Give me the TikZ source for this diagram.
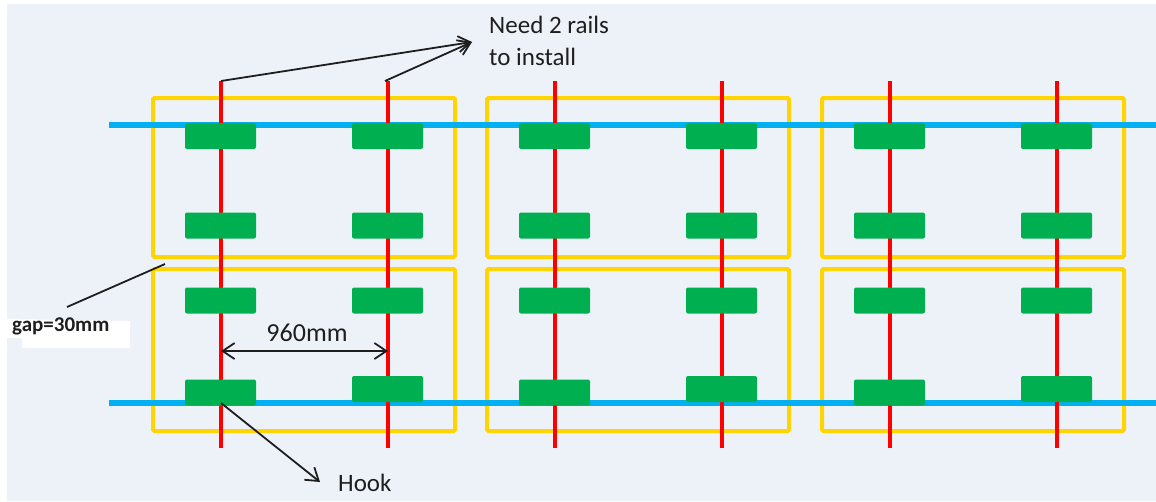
\documentclass[tikz,border=0pt]{standalone}
\usepackage{fontspec}
\setmainfont{Carlito}
\usetikzlibrary{arrows.meta}
\definecolor{bg}{HTML}{EDF2F9}
\definecolor{beamblue}{HTML}{00B0F0}
\definecolor{railred}{HTML}{FF0000}
\definecolor{hookgreen}{HTML}{00B050}
\definecolor{panelyellow}{HTML}{FFD400}
\definecolor{txt}{HTML}{1E1E1E}
\begin{document}
\begin{tikzpicture}[x=1pt,y=-1pt,
  panel/.style={draw=panelyellow,line width=4pt,rounded corners=1.5pt},
  beam/.style={draw=beamblue,line width=6pt},
  rail/.style={draw=railred,line width=4pt},
  hookbox/.style={fill=hookgreen,draw=none,rounded corners=2pt,minimum width=71pt,minimum height=26pt,inner sep=0pt},
  callout/.style={draw=txt,line width=1.8pt},
  arrowline/.style={callout,-{Straight Barb[length=12pt,width=16pt,line width=1.8pt]}},
  label/.style={text=txt,inner sep=0pt,font=\fontsize{25}{30}\selectfont}
]
\useasboundingbox (0,0) rectangle (1156,501);
\fill[white] (0,0) rectangle (1156,501);
\fill[bg] (7,4) rectangle (1156,501);

% panels
\foreach \i/\dx in {1/0,2/334,3/669} {
  \draw[panel] (153+\dx,98) rectangle (455+\dx,257);
  \draw[panel] (153+\dx,269) rectangle (455+\dx,431);
}

% beams
\coordinate (beamTopL) at (109,125);
\coordinate (beamTopR) at (1156,125);
\coordinate (beamBotL) at (109,403);
\coordinate (beamBotR) at (1156,403);
\draw[beam] (beamTopL) -- (beamTopR);
\draw[beam] (beamBotL) -- (beamBotR);

% rails and hooks
\foreach \i/\dx in {1/0,2/334,3/669} {
  \coordinate (rt-\i-a) at (221+\dx,81);
  \coordinate (rb-\i-a) at (221+\dx,448);
  \coordinate (rt-\i-b) at (388+\dx,81);
  \coordinate (rb-\i-b) at (388+\dx,448);
  \draw[rail] (rt-\i-a) -- (rb-\i-a);
  \draw[rail] (rt-\i-b) -- (rb-\i-b);
  \node[hookbox] (g-\i-a-1) at (220.5+\dx,136) {};
  \node[hookbox] (g-\i-a-2) at (220.5+\dx,225.5) {};
  \node[hookbox] (g-\i-a-3) at (220.5+\dx,300.5) {};
  \node[hookbox] (g-\i-a-4) at (220.5+\dx,392.5) {};
  \node[hookbox] (g-\i-b-1) at (387.5+\dx,136) {};
  \node[hookbox] (g-\i-b-2) at (387.5+\dx,225.5) {};
  \node[hookbox] (g-\i-b-3) at (387.5+\dx,300.5) {};
  \node[hookbox] (g-\i-b-4) at (387.5+\dx,389) {};
}

% "Need 2 rails" callout
\node[label,anchor=base west] (need1) at (489,33) {Need 2 rails};
\node[label,anchor=base west] (need2) at (489,65) {to install};
\coordinate (needtip) at (472,42);
\coordinate (railstartA) at (221,81);
\coordinate (railstartB) at (385,81);
\draw[arrowline] (railstartA) -- (needtip);
\draw[arrowline] (railstartB) -- (needtip);

% 960mm dimension
\coordinate (dimL) at (221,351);
\coordinate (dimR) at (388,351);
\draw[callout,{Straight Barb[length=12pt,width=16pt,line width=1.8pt]}-{Straight Barb[length=12pt,width=16pt,line width=1.8pt]}] (dimL) -- (dimR);
\node[label,anchor=base,font=\fontsize{26}{30}\selectfont] (dimtext) at (307,341) {960mm};

% Hook callout
\coordinate (hookstart) at (221,403);
\coordinate (hooktip) at (320,482);
\draw[arrowline] (hookstart) -- (hooktip);
\node[label,anchor=base west] (hooktext) at (338,491) {Hook};

% gap callout
\fill[white] (7,319) -- (130,321) -- (130,348) -- (22,348) -- (22,338) -- (7,338) -- cycle;
\node[label,anchor=base west,font=\bfseries\fontsize{21}{25}\selectfont] (gaptext) at (12,331) {gap=30mm};
\coordinate (gapstart) at (67,307);
\coordinate (gapend) at (165,264);
\draw[callout] (gapstart) -- (gapend);
\end{tikzpicture}
\end{document}
